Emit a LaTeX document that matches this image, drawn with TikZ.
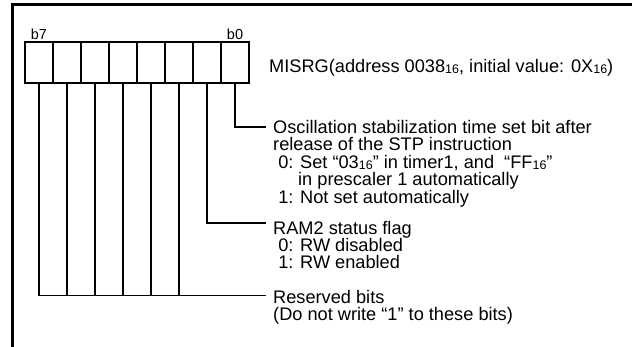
\documentclass[tikz,border=0pt]{standalone}
\usepackage{fontspec}
\setmainfont{Liberation Sans}
\usetikzlibrary{positioning}
\newcommand{\hexs}[1]{\raisebox{-0.8pt}{\fontsize{12.5}{12.5}\selectfont #1}}
\tikzset{
	cell/.style={draw,line width=1.6pt,minimum width=28pt,minimum height=41pt,inner sep=0pt,outer sep=0pt},
	bitlbl/.style={inner sep=0pt,font=\fontsize{14.5}{14.5}\selectfont},
	lbl/.style={anchor=west,inner xsep=7pt,inner ysep=0pt,text height=13pt,text depth=0pt,font=\fontsize{18.2}{18}\selectfont},
	wire/.style={line width=1.2pt}
}
\begin{document}
\begin{tikzpicture}[x=1pt,y=-1pt]
			\useasboundingbox (0,0) rectangle (632,347);
			\draw[line width=3pt] (632,5) -- (12.5,5) -- (12.5,347);
			\foreach \i in {0,...,7}
				\node[cell] (c\i) at ({235-28*\i},62.5) {};
			\node[bitlbl,above=2pt of c7] (b7) {b7};
			\node[bitlbl,above=2pt of c0] (b0) {b0};
			\node[lbl] (misrg) at (262,66) {MISRG(address 0038\hexs{16}, initial value: 0X\hexs{16})};
			\node[lbl] (osc) at (266,127) {Oscillation stabilization time set bit after};
			\node[lbl] (osc1) at (266,144.5) {release of the STP instruction};
			\node[lbl] (osc2) at (266,162) {~0: Set “03\hexs{16}” in timer1, and~ “FF\hexs{16}”};
			\node[lbl] (osc3) at (291,179.5) {in prescaler 1 automatically};
			\node[lbl] (osc4) at (266,197) {~1: Not set automatically};
			\node[lbl] (ram) at (266,228) {RAM2 status flag};
			\node[lbl] (ram1) at (266,245) {~0: RW disabled};
			\node[lbl] (ram2) at (266,262) {~1: RW enabled};
			\node[lbl] (rsv) at (266,297) {Reserved bits};
			\node[lbl] (rsv1) at (266,314.5) {(Do not write “1” to these bits)};
			\coordinate (ramend) at ([yshift=5pt]ram.west);
			\coordinate (bus) at ([yshift=1.5pt]rsv.west);
			\draw[wire] (c0.south) |- (osc.west);
			\draw[wire] (c1.south) |- (ramend);
			\draw[wire] (c7.south) |- (bus);
			\foreach \i in {2,...,6}
				\draw[wire] (c\i.south) -- (c\i.south |- bus);
		\end{tikzpicture}
\end{document}
